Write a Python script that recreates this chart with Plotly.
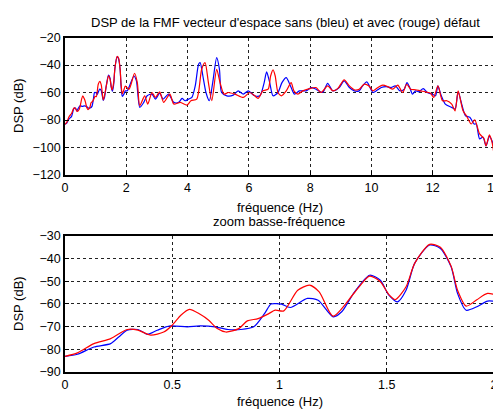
import plotly.graph_objs as go
from plotly.subplots import make_subplots

# DSP sans défaut (bleu)
freq_bleu = [0.0, 0.058, 0.135, 0.213, 0.25, 0.29, 0.34, 0.385, 0.43, 0.49, 0.57, 0.63, 0.70, 0.76, 0.82,
             0.88, 0.93, 0.96, 0.98, 1.01, 1.05, 1.13, 1.18, 1.25, 1.29, 1.35, 1.42, 1.47, 1.51, 1.55,
             1.59, 1.63, 1.70, 1.75, 1.80, 1.83, 1.87, 1.92, 1.97, 2.03, 2.25, 2.33, 2.44, 2.57,
             2.68, 2.84, 2.95, 3.09, 3.2, 3.38, 3.55, 3.71, 3.82, 3.92, 4.03, 4.14, 4.25, 4.36, 4.41,
             4.5, 4.6, 4.71, 4.82, 4.95, 5.04, 5.11, 5.28, 5.49, 5.65, 5.82, 5.98, 6.19, 6.36, 6.5,
             6.58, 6.68, 6.79, 6.95, 7.08, 7.22, 7.38, 7.49, 7.65, 7.87, 8.03, 8.19, 8.41, 8.57, 8.74,
             8.95, 9.11, 9.28, 9.44, 9.6, 9.71, 9.85, 9.98, 10.05, 10.16, 10.32, 10.48, 10.64, 10.78,
             10.93, 11.07, 11.16, 11.25, 11.34, 11.44, 11.55, 11.69, 11.82, 11.98, 12.09, 12.17,
             12.28, 12.41, 12.62, 12.73, 12.83, 12.96, 13.07, 13.21, 13.35, 13.42, 13.53, 13.64,
             13.74, 13.85, 13.93, 14.0]
dsp_bleu = [-83.1, -82.2, -79.0, -77.5, -74.6, -71.6, -71.3, -73.4, -71.6, -69.7, -70.1, -69.7, -70.1, -71.3,
            -71.3, -70.1, -64.3, -60.1, -59.9, -60.1, -61.6, -57.6, -58.4, -65.7, -63.5, -54.7, -47.4,
            -49.6, -56.2, -59.1, -54.0, -42.2, -34.1, -35.6, -43.7, -55.4, -62.8, -61.3, -58.8, -58.8,
            -48.0, -51.6, -70.8, -67.2, -62.4, -61.2, -64.8, -60.5, -64.8, -61.2, -67.2, -67.2, -64.3,
            -66.0, -64.8, -63.6, -55.2, -39.5, -38.3, -48.0, -60.0, -66.0, -52.8, -34.7, -43.1, -60.0,
            -62.4, -61.9, -58.8, -61.2, -58.8, -62.4, -62.4, -52.8, -45.0, -52.8, -62.4, -60.0, -52.8,
            -49.2, -56.4, -61.2, -58.8, -58.8, -56.4, -57.6, -60.0, -53.3, -58.8, -56.4, -51.6, -56.4,
            -58.8, -58.8, -55.2, -52.3, -57.6, -60.0, -58.8, -56.4, -55.7, -56.4, -55.2, -58.8, -57.6,
            -52.8, -56.4, -61.2, -58.8, -59.5, -57.2, -60.0, -61.2, -62.4, -55.2, -62.4, -68.4, -70.8,
            -72.0, -59.5, -69.6, -76.9, -78.0, -82.9, -82.9, -93.7, -92.5, -98.8, -91.8, -94.9, -100.0]

# DSP avec défaut (rouge)
freq_rouge = [0.0, 0.058, 0.135, 0.213, 0.29, 0.34, 0.40, 0.46, 0.50, 0.54, 0.58, 0.63, 0.67, 0.71, 0.75,
              0.81, 0.85, 0.90, 0.95, 0.98, 1.02, 1.085, 1.14, 1.185, 1.25, 1.35, 1.42, 1.47, 1.51, 1.54,
              1.59, 1.63, 1.70, 1.75, 1.80, 1.83, 1.87, 1.92, 1.97, 2.09, 2.27, 2.36, 2.44, 2.6,
              2.7, 2.84, 2.95, 3.09, 3.22, 3.42, 3.55, 3.76, 3.98, 4.11, 4.3, 4.46, 4.57, 4.68, 4.79,
              4.95, 5.06, 5.19, 5.33, 5.55, 5.82, 6.03, 6.19, 6.3, 6.46, 6.63, 6.71, 6.79, 6.86, 6.95,
              7.06, 7.22, 7.38, 7.47, 7.6, 7.76, 7.98, 8.19, 8.36, 8.57, 8.74, 8.9, 9.11, 9.28, 9.44,
              9.6, 9.76, 9.92, 10.05, 10.21, 10.37, 10.53, 10.7, 10.86, 11.02, 11.15, 11.28, 11.44,
              11.6, 11.76, 11.93, 12.03, 12.17, 12.32, 12.46, 12.62, 12.73, 12.83, 12.99, 13.1, 13.26,
              13.37, 13.53, 13.67, 13.74, 13.85, 13.93, 14.0]
dsp_rouge = [-83.1, -81.6, -77.5, -75.3, -71.3, -71.6, -73.8, -72.4, -69.4, -65.0, -62.4, -64.6, -67.2,
             -70.9, -72.4, -70.9, -67.5, -66.5, -64.3, -62.8, -63.1, -54.0, -51.8, -54.7, -65.4, -55.0,
             -47.8, -50.3, -55.9, -58.1, -52.5, -42.2, -33.8, -35.1, -43.4, -54.0, -61.0, -58.2, -55.4,
             -57.6, -46.0, -52.8, -69.6, -62.4, -68.4, -60.0, -63.6, -59.5, -67.2, -61.2, -68.4, -67.2,
             -69.2, -66.0, -64.8, -43.1, -38.3, -52.8, -66.0, -43.1, -52.8, -61.2, -60.0, -61.2, -63.6,
             -60.0, -62.4, -64.3, -58.8, -57.6, -48.0, -43.6, -48.0, -60.0, -62.4, -58.8, -52.8, -58.8,
             -61.2, -58.8, -57.2, -56.4, -60.0, -55.2, -58.8, -57.2, -50.8, -55.2, -58.0, -57.6, -54.0,
             -55.2, -58.8, -56.4, -54.7, -55.7, -57.6, -54.7, -60.0, -54.0, -57.6, -58.0, -58.8, -59.5,
             -60.5, -63.6, -55.2, -66.0, -66.0, -68.4, -73.3, -58.8, -73.3, -76.9, -82.9, -79.8, -90.1,
             -93.3, -98.8, -90.8, -95.6, -104.8]

x_ticks_haut = [0, 2, 4, 6, 8, 10, 12, 14]
y_ticks_haut = [-20, -40, -60, -80, -100, -120]
x_ticks_bas = [0, 0.5, 1, 1.5, 2]
y_ticks_bas = [-30, -40, -50, -60, -70, -80, -90]

police = "Liberation Sans, Arial, sans-serif"

fig = make_subplots(rows=2, cols=1)

for row in (1, 2):
    fig.add_trace(go.Scatter(x=freq_bleu, y=dsp_bleu, mode="lines", line_shape="spline",
                             line={"color": "#0000ff", "width": 1.2, "smoothing": 0.7},
                             showlegend=False), row=row, col=1)
    fig.add_trace(go.Scatter(x=freq_rouge, y=dsp_rouge, mode="lines", line_shape="spline",
                             line={"color": "#ff0000", "width": 1.2, "smoothing": 0.7},
                             showlegend=False), row=row, col=1)

axe = dict(showline=True, linecolor="black", linewidth=1.5, mirror=True,
           showgrid=True, gridcolor="#222", griddash="dot", gridwidth=1,
           zeroline=False, ticks="inside", ticklen=4, tickcolor="black", automargin=False,
           ticklabeloverflow="allow",
           tickfont={"family": police, "size": 12.5, "color": "black"})

fig.update_xaxes(axe)
fig.update_yaxes(axe)

# la page a une marge de 8 px : les positions sont décalées d'autant
dom_x = [57 / 501, 486 / 501]


def texte(t, x, y, angle=0):
    return {"text": t, "x": x, "y": y, "xref": "paper", "yref": "paper", "textangle": angle,
            "showarrow": False, "font": {"size": 13}, "xanchor": "center", "yanchor": "middle"}


fig.update_layout(
    width=501, height=409,
    margin={"l": 0, "r": 0, "t": 0, "b": 0},
    paper_bgcolor="white", plot_bgcolor="white",
    font={"family": police, "size": 12, "color": "black"},
    xaxis={"domain": dom_x, "range": [0, 14], "tickvals": x_ticks_haut},
    yaxis={"domain": [1 - 167 / 409, 1 - 29.5 / 409], "range": [-120, -20], "tickvals": y_ticks_haut},
    xaxis2={"domain": dom_x, "range": [0, 2], "tickvals": x_ticks_bas},
    yaxis2={"domain": [1 - 364 / 409, 1 - 227.7 / 409], "range": [-90, -30], "tickvals": y_ticks_bas},
    annotations=[
        texte("DSP de la FMF vecteur d'espace sans (bleu) et avec (rouge) défaut", 277 / 501, 1 - 14 / 409),
        texte("zoom basse-fréquence", 271 / 501, 1 - 213 / 409),
        texte("fréquence (Hz)", 272 / 501, 1 - 199 / 409),
        texte("fréquence (Hz)", 272 / 501, 1 - 393 / 409),
        texte("DSP (dB)", 10 / 501, 1 - 98 / 409, -90),
        texte("DSP (dB)", 10 / 501, 1 - 296 / 409, -90),
    ],
)

fig.write_html("out.html")
